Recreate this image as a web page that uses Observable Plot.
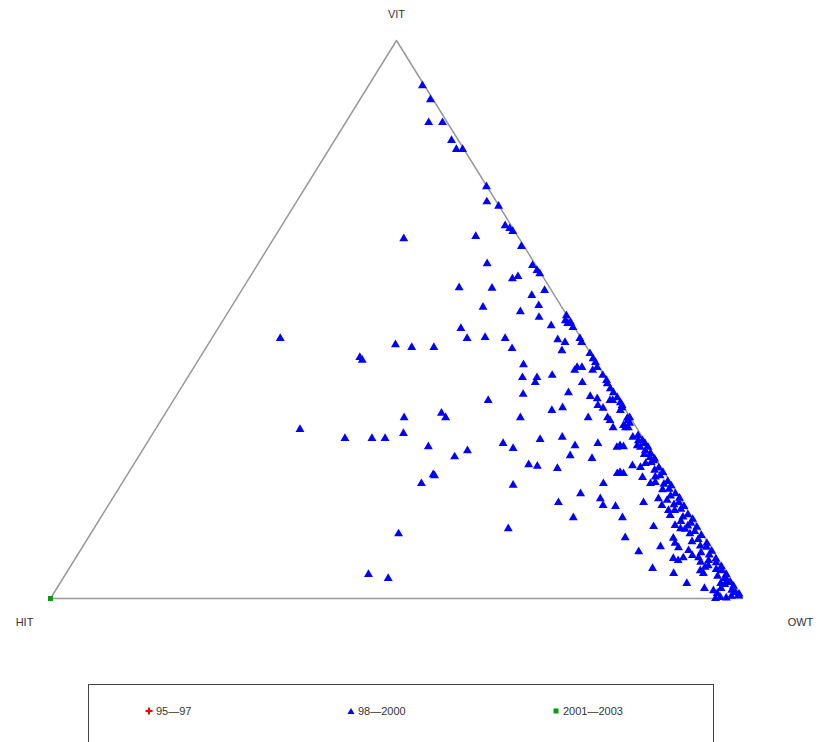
<!DOCTYPE html>
<html><head><meta charset="utf-8">
<script src="https://cdn.jsdelivr.net/npm/d3@7"></script>
<script src="https://cdn.jsdelivr.net/npm/@observablehq/plot@0.6"></script>
<style>
body{margin:0;background:#fff;font-family:"Liberation Sans",Arial,sans-serif;}
#wrap{position:relative;width:820px;height:742px;overflow:hidden;}
#legend{position:absolute;left:88px;top:684px;width:626px;height:60px;border:1.5px solid #444;box-sizing:border-box;}
.item{position:absolute;top:20px;font-size:11px;color:#333;display:flex;align-items:center;gap:3px;}
</style></head>
<body><div id="wrap"><div id="chart"></div><div id="legend"></div></div>
<script>
// Ternary components in percent: VIT (top), HIT (bottom-left); OWT = 100 - VIT - HIT
const groups = ["95\u201497", "98\u20142000", "2001\u20142003"];
const colors = ["red", "blue", "#0a9a0a"];
const symbols = ["plus", "triangle", "square"];

const vit9597 = [];
const hit9597 = [];

const vit982000 = [
91.9,89.4,85.3,85.3,82.1,80.5,80.5,73.8,71.1,70.3,66.8,66.3,65.8,64.5,64.9,63.1,60.0,59.7,58.8,58.2,57.3,57.7,55.7,55.6,55.2,54.3,52.5,52.2,51.4,50.4,48.4,48.9,49.8,49.3,48.6,46.6,46.8,46.6,46.4,45.9,44.4,46.6,45.9,44.8,41.9,43.9,43.0,41.4,41.4,41.4,40.0,39.6,39.6,40.0,
46.6,45.5,45.0,45.0,43.2,42.7,
32.4,33.2,32.4,30.3,28.7,28.7,28.7,29.6,27.2,25.4,22.2,
40.9,40.9,38.7,38.7,38.5,37.6,36.9,36.0,36.6,36.9,36.2,35.8,34.6,34.1,35.5,35.5,35.1,34.6,35.5,33.7,34.2,32.4,32.4,32.4,30.6,31.0,31.9,32.4,
28.5,28.9,27.8,26.9,26.5,27.4,27.8,27.4,27.2,28.9,28.3,27.1,26.5,25.3,24.7,25.6,25.1,24.0,23.7,23.3,22.4,22.4,23.8,21.7,
20.6,22.0,20.3,11.6,12.5,4.3,3.6,17.2,
23.5,22.6,20.6,18.8,17.9,16.7,16.5,17.2,14.5,14.5,12.9,10.9,8.4,9.3,5.4,4.5,2.7,1.8,0.9,0.0,
20.6,20.8,17.9,16.7,15.8,14.9,13.1,12.5,12.4,10.8,9.9,9.1,8.6,7.7,7.2,6.8,7.3,7.3,6.5,5.6,5.0,4.5,1.4,0.2,2.7,3.2,1.1,0.5,
50.7,49.5,42.3,39.1,34.2,33.7,31.9,32.3,31.4,30.6,30.6,29.2,28.3,27.8,27.1,27.4,27.1,
26.0,25.8,25.0,24.4,24.2,23.4,23.0,22.6,22.0,21.8,21.0,20.5,20.2,19.6,19.5,18.8,18.4,18.0,17.6,17.2,16.8,16.5,16.0,15.8,15.0,14.6,14.2,13.8,13.5,13.0,12.8,12.0,11.6,11.3,10.6,10.2,9.9,9.4,9.2,8.5,8.2,7.8,7.1,6.8,6.4,5.9,5.7,5.2,5.0,4.3,4.0,3.6,2.9,2.5,2.2,1.8,1.5,0.8,0.4,0.1
];
const hit982000 = [
0.3,0.4,2.7,0.7,1.0,1.1,0.2,0.1,1.4,0.1,0.9,0.5,0.3,16.7,6.1,0.4,6.9,0.5,0.3,0.2,4.6,3.6,13.1,8.4,1.0,3.3,3.2,11.4,6.4,4.2,16.5,3.2,0.7,0.6,0.2,16.5,13.8,11.0,3.5,2.7,3.9,0.2,0.3,10.9,10.7,0.1,0.1,3.2,2.5,0.3,0.2,12.0,9.9,7.5,
43.5,27.4,25.3,22.1,33.7,33.6,
32.7,26.9,26.7,48.8,43.1,39.2,37.3,34.2,31.8,28.9,33.6,
3.8,1.2,10.6,3.8,0.3,0.3,0.2,0.1,13.4,6.7,3.9,3.1,3.6,3.1,1.4,1.0,0.1,0.1,19.0,10.7,8.9,15.9,6.1,3.3,3.4,1.7,0.6,0.1,
15.0,11.6,20.7,19.7,26.5,10.5,7.0,4.0,3.6,1.4,0.9,1.2,0.8,0.7,0.5,12.1,9.2,18.9,17.8,15.1,6.9,6.0,4.0,3.6,
36.1,33.5,23.0,43.9,27.6,51.9,49.4,18.0,
3.0,6.4,9.8,14.0,11.6,11.8,10.1,5.7,17.2,10.1,6.4,11.5,10.8,7.2,10.3,7.7,6.7,4.6,3.2,3.9,
3.0,2.2,3.2,3.3,2.8,3.0,3.2,2.7,2.1,4.6,4.8,4.7,3.5,3.4,6.4,5.9,4.9,2.7,2.8,2.6,3.6,3.4,3.5,3.1,1.8,0.6,0.5,0.3,
0.1,0.1,0.1,0.1,0.3,0.8,3.2,0.5,0.6,1.6,1.2,0.5,0.3,0.2,0.1,1.5,4.6,
0.3,1.3,0.2,1.0,1.9,0.4,1.2,0.2,0.9,1.7,0.3,1.1,0.2,0.8,1.8,0.3,1.2,0.1,2.1,0.6,1.5,0.2,0.9,1.9,0.4,1.3,0.1,2.0,0.7,1.4,0.2,0.9,1.8,0.3,1.1,2.2,0.2,1.4,0.6,0.2,1.9,0.9,0.3,1.5,0.6,2.0,0.2,1.2,0.5,0.2,1.6,0.8,0.3,1.3,0.2,2.2,0.8,0.1,1.4,2.3
];

const vit20012003 = [0];
const hit20012003 = [100];

// vertices
const vertexNames = ["VIT", "HIT", "OWT"];
const vertexVIT = [100, 0, 0];
const vertexHIT = [0, 100, 0];

function toXY(v, h) {
  const V = v / 100, H = h / 100, O = 1 - V - H;
  return {x: O + V / 2, y: V};
}

const seriesVIT = [vit9597, vit982000, vit20012003];
const seriesHIT = [hit9597, hit982000, hit20012003];
const points = [];
groups.forEach((g, i) => {
  seriesVIT[i].forEach((v, j) => points.push({group: g, ...toXY(v, seriesHIT[i][j])}));
});
const verts = vertexNames.map((n, i) => ({name: n, ...toXY(vertexVIT[i], vertexHIT[i])}));
const outline = [...verts, verts[0]];

const plot = Plot.plot({
  width: 820, height: 670,
  marginLeft: 50, marginRight: 78, marginTop: 40, marginBottom: 72,
  x: {domain: [0, 1], axis: null},
  y: {domain: [0, 1], axis: null},
  color: {domain: groups, range: colors},
  symbol: {domain: groups, range: symbols},
  style: {fontFamily: "'Liberation Sans', Arial, sans-serif", background: "white"},
  marks: [
    Plot.line(outline, {x: "x", y: "y", stroke: "#999", strokeWidth: 1.5}),
    Plot.dot(points.filter(d => d.group === groups[1]), {x: "x", y: "y", symbol: "group", fill: "group", stroke: "none", r: 3.3}),
    Plot.dot(points.filter(d => d.group === groups[2]), {x: "x", y: "y", symbol: "group", fill: "group", stroke: "none", r: 2.8}),
    Plot.text(verts.filter(d => d.name === "VIT"), {x: "x", y: "y", text: "name", dy: -26, fontSize: 11, fill: "#333"}),
    Plot.text(verts.filter(d => d.name === "HIT"), {x: "x", y: "y", text: "name", dx: -26, dy: 24, fontSize: 11, fill: "#333"}),
    Plot.text(verts.filter(d => d.name === "OWT"), {x: "x", y: "y", text: "name", dx: 58, dy: 24, fontSize: 11, fill: "#333"})
  ]
});
document.getElementById("chart").appendChild(plot);

// legend
const legend = document.getElementById("legend");
const lefts = [56, 258, 463];
const shapes = [
  '<svg width="8" height="8"><path d="M4 0.5V7.5M0.5 4H7.5" stroke="red" stroke-width="2"/></svg>',
  '<svg width="8" height="8"><path d="M4 1L7.5 7H0.5Z" fill="blue"/></svg>',
  '<svg width="8" height="8"><rect x="1.5" y="1.5" width="5" height="5" fill="#0a9a0a"/></svg>'
];
groups.forEach((g, i) => {
  const d = document.createElement("div");
  d.className = "item";
  d.style.left = lefts[i] + "px";
  d.innerHTML = shapes[i] + "<span>" + g + "</span>";
  legend.appendChild(d);
});
</script>
</body></html>
